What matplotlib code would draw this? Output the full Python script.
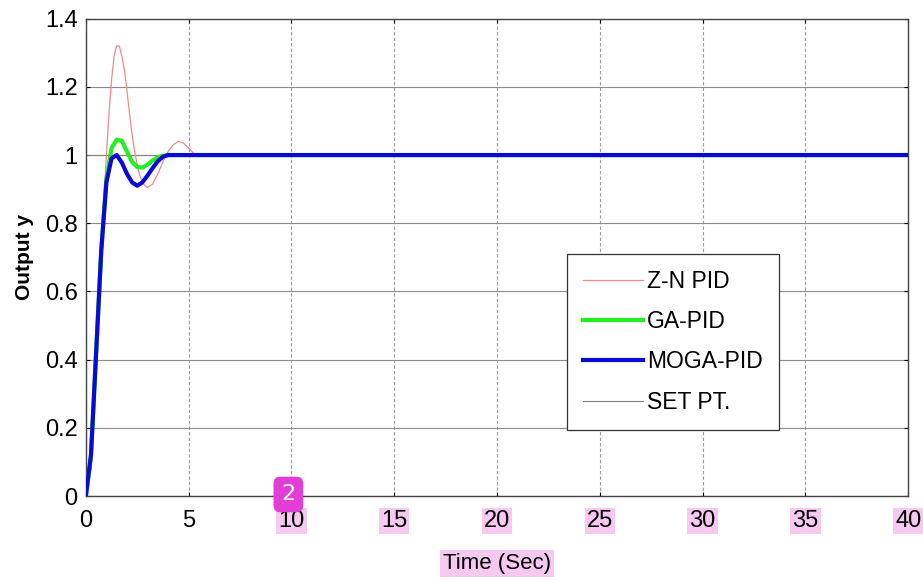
import matplotlib
matplotlib.use("Agg")
import matplotlib.pyplot as plt
from matplotlib import font_manager

# step responses (time in s, output y)
t_zn = [0, 0.25, 0.5, 0.75, 0.875, 1.0, 1.125, 1.25, 1.375, 1.5, 1.625, 1.75, 1.875,
        2.0, 2.125, 2.25, 2.375, 2.5, 2.625, 2.75, 2.875, 3.0, 3.25, 3.5, 3.75,
        4.0, 4.25, 4.5, 4.75, 5.0, 5.25, 5.5, 40]
y_zn = [0, 0.08, 0.35, 0.70, 0.86, 1.0, 1.12, 1.22, 1.29, 1.32, 1.32, 1.29, 1.25,
        1.19, 1.12, 1.06, 1.01, 0.97, 0.94, 0.92, 0.91, 0.905, 0.915, 0.945, 0.98,
        1.01, 1.03, 1.04, 1.035, 1.02, 1.005, 1.0, 1.0]

t_ga = [0, 0.25, 0.5, 0.75, 1.0, 1.25, 1.5, 1.75, 2.0, 2.25, 2.5, 2.75, 3.0,
        3.25, 3.5, 3.75, 4.0, 40]
y_ga = [0, 0.12, 0.42, 0.72, 0.93, 1.02, 1.045, 1.042, 1.01, 0.98, 0.965, 0.963, 0.972,
        0.984, 0.993, 0.998, 1.0, 1.0]

t_moga = [0, 0.25, 0.5, 0.75, 1.0, 1.25, 1.5, 1.75, 2.0, 2.25, 2.5, 2.75, 3.0,
          3.25, 3.5, 3.75, 4.0, 40]
y_moga = [0, 0.12, 0.42, 0.72, 0.92, 0.99, 1.0, 0.978, 0.945, 0.92, 0.91, 0.92, 0.94,
          0.962, 0.982, 0.995, 1.0, 1.0]

t_sp = [0, 40]
y_sp = [1, 1]

x_ticks = [0, 5, 10, 15, 20, 25, 30, 35, 40]
y_ticks = [0, 0.2, 0.4, 0.6, 0.8, 1.0, 1.2, 1.4]
y_ticklabels = ["0", "0.2", "0.4", "0.6", "0.8", "1", "1.2", "1.4"]

installed = {f.name for f in font_manager.fontManager.ttflist}
fam = "Liberation Sans Narrow" if "Liberation Sans Narrow" in installed else "Liberation Sans"
plt.rcParams["font.family"] = [fam, "DejaVu Sans"]

fig = plt.figure(figsize=(9.23, 5.81), dpi=100)
ax = fig.add_axes([0.093, 0.146, 0.891, 0.822])

ax.plot(t_sp, y_sp, color="#808080", lw=0.8, label="SET PT.", zorder=1)
ax.plot(t_zn, y_zn, color="#f08a8a", lw=0.9, label="Z-N PID", zorder=2)
ax.plot(t_ga, y_ga, color="#22ee22", lw=3, label="GA-PID", zorder=3)
ax.plot(t_moga, y_moga, color="#0a0ad8", lw=3, label="MOGA-PID", zorder=4)

ax.set_xlim(0, 40)
ax.set_ylim(0, 1.4)
ax.set_xticks(x_ticks)
ax.set_yticks(y_ticks)
ax.set_yticklabels(y_ticklabels)
ax.tick_params(direction="in", length=3, labelsize=17, top=True, right=True)
ax.tick_params(axis="x", pad=10)
ax.tick_params(axis="y", pad=6)
ax.yaxis.grid(True, color="#8c8c8c", lw=0.8, ls="-")
ax.xaxis.grid(True, color="#9a9a9a", lw=0.8, ls=(0, (3, 2)))
ax.set_axisbelow(True)
for s in ax.spines.values():
    s.set_color("#444444")
    s.set_linewidth(1.0)

ax.set_ylabel("Output y", fontsize=15, fontweight="bold", labelpad=8)
xl = ax.set_xlabel("Time (Sec)", fontsize=16, labelpad=15)

# pink highlight marks from the reference
for lbl in ax.get_xticklabels():
    if lbl.get_text() not in ("0", "5"):
        lbl.set_bbox(dict(facecolor="#f7c8f0", edgecolor="none", pad=1.5))
xl.set_bbox(dict(facecolor="#f7c8f0", edgecolor="none", pad=2))
ax.text(9.85, 0.005, "2", fontsize=16, color="white", ha="center", va="center",
        family="DejaVu Sans", zorder=10, clip_on=False,
        bbox=dict(boxstyle="round,pad=0.35,rounding_size=0.3", facecolor="#e23ed6", edgecolor="none"))

handles, labels = ax.get_legend_handles_labels()
order = [1, 2, 3, 0]
leg = ax.legend([handles[i] for i in order], [labels[i] for i in order],
                loc="upper left", bbox_to_anchor=(0.585, 0.507), borderaxespad=0,
                fontsize=16.5, handlelength=2.6, handletextpad=0.2, labelspacing=0.75,
                borderpad=0.7, fancybox=False, framealpha=1, edgecolor="#333333")
leg.get_frame().set_linewidth(0.9)

plt.savefig("out.png", dpi=100)
